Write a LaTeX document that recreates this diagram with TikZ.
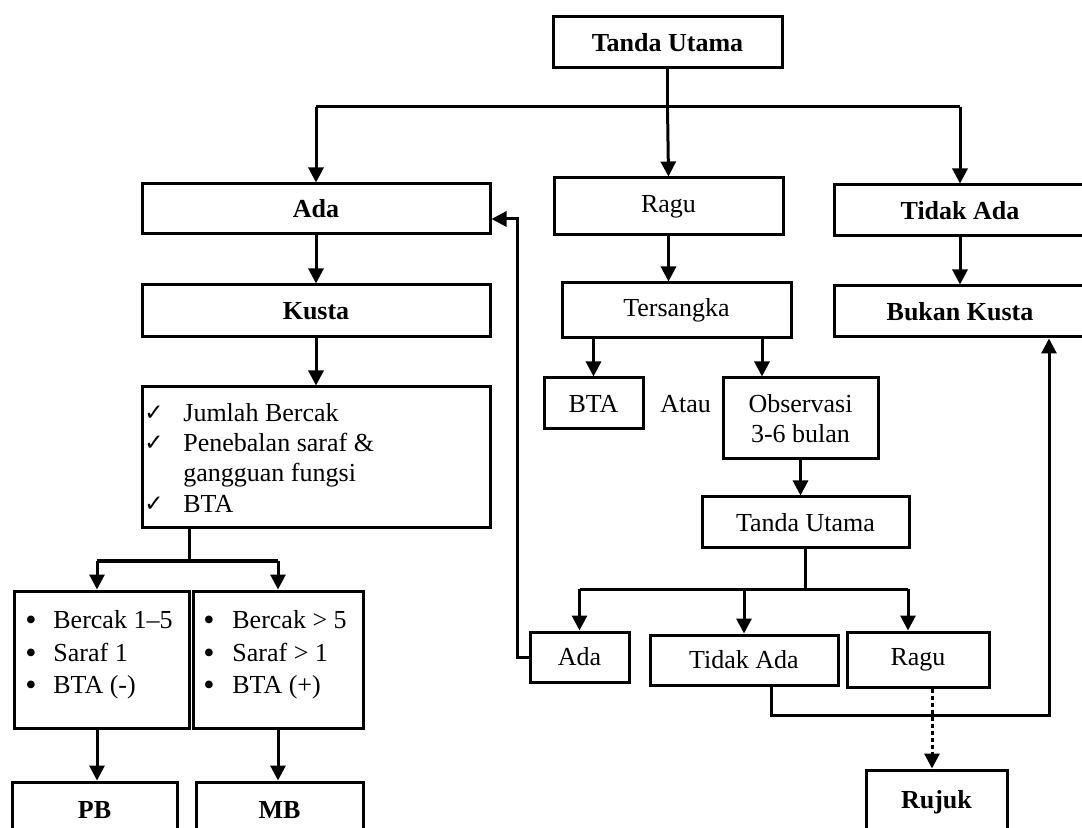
\documentclass[tikz,border=0pt]{standalone}
\usepackage{fontspec}
\setmainfont{Liberation Serif}
\newfontfamily\djv{DejaVu Sans}
\usetikzlibrary{arrows.meta}
\tikzset{
 box/.style={draw,line width=1.5pt,inner sep=0pt,align=center,font=\fontsize{13}{15}\selectfont},
 bb/.style={font=\fontsize{13}{15}\selectfont\bfseries},
 ln/.style={line width=1.5pt},
 arr/.style={ln,-{Triangle[length=7.5pt,width=7.5pt]}},
 darr/.style={arr,dash pattern=on 2pt off 1.5pt},
 txt/.style={inner sep=0pt,anchor=base west,font=\fontsize{13}{15}\selectfont},
 chk/.style={inner sep=0pt,anchor=base west,font=\djv\fontsize{11.5}{11.5}\selectfont},
 bul/.style={inner sep=0pt,anchor=base west,font=\fontsize{16}{16}\selectfont},
}
\newcommand\bx[7][]{\node[box,#1,minimum width={(#5-#3)*0.5pt},minimum height={(#6-#4)*0.5pt}] (#2) at ({(#3+#5)/2},{(#4+#6)/2}) {#7};}
\begin{document}
\begin{tikzpicture}[x=0.5pt,y=-0.5pt]
\useasboundingbox (0,0) rectangle (1082,828);
\clip (0,0) rectangle (1082,828);
% boxes
\bx[bb]{tu}{553}{17}{782}{68}{Tanda Utama}
\bx[bb]{ada}{142}{184}{490}{234}{Ada}
\bx{ragu}{554}{178}{783}{235}{Ragu}
\bx[bb]{tidak}{834}{185}{1086}{236}{Tidak Ada}
\bx[bb]{kusta}{142}{285}{490}{337}{Kusta}
\bx[bb]{bukan}{834}{286}{1086}{337}{Bukan Kusta}
\bx{check}{142}{387}{490}{528}{}
\bx{ters}{562}{283}{791}{338}{Tersangka}
\bx{bta}{544}{378}{643}{429}{BTA}
\bx{obs}{723}{378}{878}{459}{Observasi\\3-6 bulan}
\bx{tu2}{702}{497}{909}{548}{Tanda Utama}
\bx{ada2}{530}{632}{629}{682}{Ada}
\bx{tidak2}{650}{635}{838}{685}{Tidak Ada}
\bx{ragu2}{847}{632}{989}{687}{Ragu}
\bx[bb]{rujuk}{866}{770}{1007}{835}{Rujuk}
\bx{l1}{14}{591}{189}{728}{}
\bx{l2}{193}{591}{363}{728}{}
\bx[bb]{pb}{12}{782}{177}{838}{PB}
\bx[bb]{mb}{196}{782}{363}{838}{MB}
% texts
\node[txt] (atau) at (660,413) {Atau};
\node[chk] (k1) at (144,421) {✓};
\node[chk] (k2) at (144,451) {✓};
\node[chk] (k3) at (144,512) {✓};
\node[txt] (c1) at (183,422) {Jumlah Bercak};
\node[txt] (c2) at (183,452) {Penebalan saraf \&};
\node[txt] (c3) at (183,482) {gangguan fungsi};
\node[txt] (c4) at (183,513) {BTA};
\node[bul] (a1) at (25,630) {•};
\node[bul] (a2) at (25,663) {•};
\node[bul] (a3) at (25,695) {•};
\node[txt] (b1) at (53,628) {Bercak 1–5};
\node[txt] (b2) at (53,661) {Saraf 1};
\node[txt] (b3) at (53,693) {BTA (-)};
\node[bul] (d1) at (203,630) {•};
\node[bul] (d2) at (203,663) {•};
\node[bul] (d3) at (203,695) {•};
\node[txt] (e1) at (232,628) {Bercak > 5};
\node[txt] (e2) at (232,661) {Saraf > 1};
\node[txt] (e3) at (232,693) {BTA (+)};
% helper coordinates
\coordinate (bus) at (0,107);
\coordinate (bus2) at (0,589);
\coordinate (bus3) at (0,561);
\coordinate (x97) at (97,0);
\coordinate (x189) at (189,0);
\coordinate (x762) at (762,0);
\coordinate (x908) at (908,0);
\coordinate (x932) at (932,0);
\coordinate (x771) at (771,0);
\coordinate (x1049) at (1049,0);
\coordinate (fb) at (517,219);
\coordinate (fb2) at (1049,715);
% connectors top
\draw[ln] (tu.south) -- (tu.south |- bus);
\draw[ln] (ada.north |- bus) -- (tidak.north |- bus);
\draw[arr] (ada.north |- bus) -- (ada.north);
\draw[arr] (tu.south |- bus) -- (ragu.north);
\draw[arr] (tidak.north |- bus) -- (tidak.north);
\draw[arr] (ada.south) -- (kusta.north);
\draw[arr] (kusta.south) -- (check.north);
\draw[arr] (tidak.south) -- (bukan.north);
\draw[arr] (ragu.south) -- (ragu.south |- ters.north);
\draw[arr] (ters.south -| bta.north) -- (bta.north);
\draw[arr] (ters.south -| x762) -- (obs.north -| x762);
\draw[arr] (obs.south) -- (obs.south |- tu2.north);
% lower right
\draw[ln] (tu2.south) -- (tu2.south |- bus2);
\draw[ln] (ada2.north |- bus2) -- (bus2 -| x908);
\draw[arr] (ada2.north |- bus2) -- (ada2.north);
\draw[arr] (tidak2.north |- bus2) -- (tidak2.north);
\draw[arr] (bus2 -| x908) -- (ragu2.north -| x908);
\draw[darr] (ragu2.south -| x932) -- (rujuk.north -| x932);
\draw[arr] (tidak2.south -| x771) |- (fb2) -- (bukan.south -| x1049);
\draw[arr] (ada2.west) -| (fb) -- (ada.east |- fb);
% lower left
\draw[ln] (check.south -| x189) -- (bus3 -| x189);
\draw[ln] (bus3 -| x97) -- (bus3 -| l2.north);
\draw[arr] (bus3 -| x97) -- (l1.north -| x97);
\draw[arr] (bus3 -| l2.north) -- (l2.north);
\draw[arr] (l1.south -| x97) -- (pb.north -| x97);
\draw[arr] (l2.south) -- (l2.south |- mb.north);
\end{tikzpicture}
\end{document}
